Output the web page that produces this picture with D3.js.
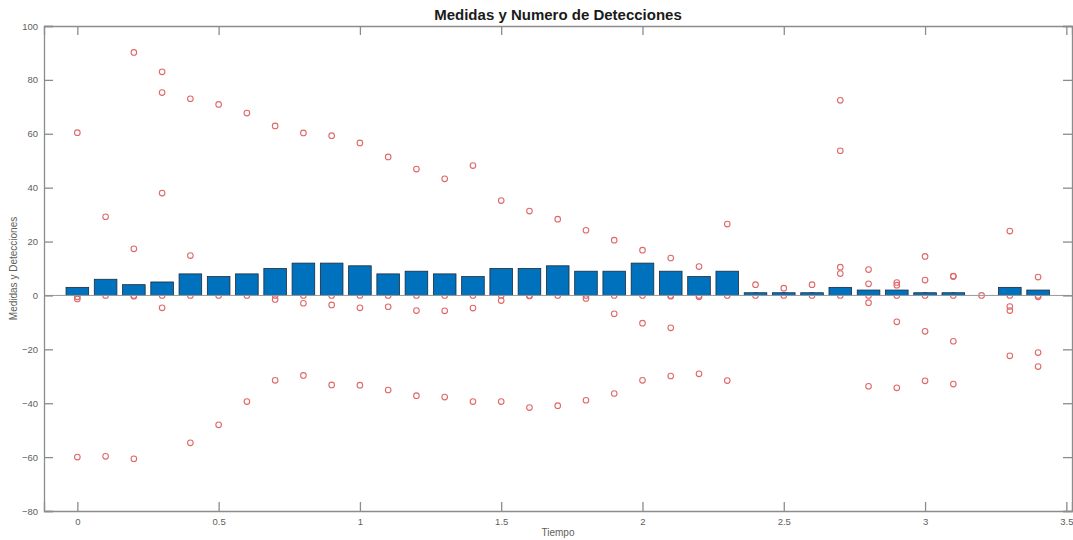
<!DOCTYPE html>
<html>
<head>
<meta charset="utf-8">
<script src="https://cdn.jsdelivr.net/npm/d3@7"></script>
<style>
  html, body { margin: 0; padding: 0; background: #fff; }
  svg { display: block; font-family: "Liberation Sans", Arial, sans-serif; }
</style>
</head>
<body>
<svg id="chart" width="1073" height="540"></svg>
<script>
// Sampling instants (s)
const tiempos = [0, 0.1, 0.2, 0.3, 0.4, 0.5, 0.6, 0.7, 0.8, 0.9,
                 1.0, 1.1, 1.2, 1.3, 1.4, 1.5, 1.6, 1.7, 1.8, 1.9,
                 2.0, 2.1, 2.2, 2.3, 2.4, 2.5, 2.6, 2.7, 2.8, 2.9,
                 3.0, 3.1, 3.2, 3.3, 3.4];

// Number of detections at each instant
const detecciones = [3, 6, 4, 5, 8, 7, 8, 10, 12, 12,
                     11, 8, 9, 8, 7, 10, 10, 11, 9, 9,
                     12, 9, 7, 9, 1, 1, 1, 3, 2, 2,
                     1, 1, 0, 3, 2];

// Measurements taken at each instant
const medidas = [
  [60.4, -0.5, -1.3, -60],
  [29.2, 0, -59.7],
  [90.2, 17.3, 0, -0.3, -60.6],
  [83, 75.3, 38, 0, -4.6],
  [73, 14.8, 0, -54.7],
  [70.9, 0, -48],
  [67.7, 0, -39.4],
  [62.9, 0, -1.5, -31.5],
  [60.3, 0, -2.9, -29.7],
  [59.3, 0, -3.5, -33.2],
  [56.6, 0, -4.6, -33.3],
  [51.4, 0, -4.2, -35.1],
  [46.9, 0, -5.6, -37.2],
  [43.3, 0, -5.7, -37.7],
  [48.2, 0, -4.7, -39.4],
  [35.2, 0, -1.9, -39.4],
  [31.3, 0, -0.2, -41.6],
  [28.3, 0, -40.9],
  [24.2, 0, -1.1, -38.9],
  [20.5, 0, -6.8, -36.4],
  [16.8, 0, -10.3, -31.5],
  [13.9, 0, -0.3, -12, -29.9],
  [10.7, 0, -0.5, -29.1],
  [26.5, 0, -31.6],
  [4.0, 0],
  [2.7, 0],
  [4.0, 0],
  [72.4, 53.7, 10.5, 8.1, 0],
  [9.6, 4.3, 0, -2.7, -33.7],
  [4.8, 3.8, 0, -9.8, -34.3],
  [14.5, 5.7, 0, -13.3, -31.7],
  [7.2, 7.0, 0, -17, -32.9],
  [0],
  [23.9, 0, -4.1, -5.6, -22.4],
  [6.8, 0, -0.5, -21.2, -26.4]
];

const xTicks = [0, 0.5, 1, 1.5, 2, 2.5, 3, 3.5];
const yTicks = [-80, -60, -40, -20, 0, 20, 40, 60, 80, 100];

const titulo = "Medidas y Numero de Detecciones";
const etiquetaX = "Tiempo";
const etiquetaY = "Medidas y Detecciones";

const svg = d3.select("#chart");
const plotLeft = 44, plotRight = 1072, plotTop = 26, plotBottom = 511;

const x = d3.scaleLinear().domain([-0.118, 3.52]).range([plotLeft, plotRight]);
const y = d3.scaleLinear().domain([-80, 100]).range([plotBottom, plotTop]);

const axisColor = "#8c8c8c";
const labelColor = "#5e5e5e";
const tickLen = 9;

// Measurement markers (drawn under the bars)
const puntos = [];
tiempos.forEach((t, i) => medidas[i].forEach(v => puntos.push({t, v})));

svg.append("g")
  .selectAll("circle")
  .data(puntos)
  .join("circle")
  .attr("cx", d => x(d.t))
  .attr("cy", d => y(d.v))
  .attr("r", 2.8)
  .attr("fill", "none")
  .attr("stroke", "#e06868")
  .attr("stroke-width", 1.1);

// Detection count bars
const barW = x(0.08) - x(0);
svg.append("g")
  .selectAll("rect")
  .data(tiempos.map((t, i) => ({t, n: detecciones[i]})).filter(d => d.n > 0))
  .join("rect")
  .attr("x", d => x(d.t) - barW / 2)
  .attr("y", d => y(d.n))
  .attr("width", barW)
  .attr("height", d => y(0) - y(d.n))
  .attr("fill", "#0072BD")
  .attr("stroke", "#1c2a3a")
  .attr("stroke-width", 0.8);

// Bar baseline
svg.append("line")
  .attr("x1", plotLeft).attr("x2", plotRight)
  .attr("y1", y(0)).attr("y2", y(0))
  .attr("stroke", "#9a9a9a").attr("stroke-width", 1);

// Axes with inward ticks on all four sides
const axisBottom = d3.axisBottom(x).tickValues(xTicks).tickSize(-tickLen).tickPadding(7)
  .tickFormat(d => d3.format("")(d));
const axisTop = d3.axisTop(x).tickValues(xTicks).tickSize(-tickLen).tickFormat("");
const axisLeft = d3.axisLeft(y).tickValues(yTicks).tickSize(-tickLen).tickPadding(6);
const axisRight = d3.axisRight(y).tickValues(yTicks).tickSize(-tickLen).tickFormat("");

function styleAxis(g) {
  g.selectAll(".domain").attr("stroke", axisColor).attr("stroke-width", 1.3);
  g.selectAll(".tick line").attr("stroke", axisColor).attr("stroke-width", 1.3);
  g.selectAll(".tick text").attr("fill", labelColor).attr("font-size", 9.5)
    .attr("font-family", "Liberation Sans, Arial, sans-serif");
}

svg.append("g").attr("transform", `translate(0,${plotBottom})`).call(axisBottom).call(styleAxis);
svg.append("g").attr("transform", `translate(0,${plotTop})`).call(axisTop).call(styleAxis);
svg.append("g").attr("transform", `translate(${plotLeft},0)`).call(axisLeft).call(styleAxis);
svg.append("g").attr("transform", `translate(${plotRight},0)`).call(axisRight).call(styleAxis);

// Title and axis labels
svg.append("text")
  .attr("x", (plotLeft + plotRight) / 2).attr("y", 20)
  .attr("text-anchor", "middle")
  .attr("font-size", 15).attr("font-weight", "bold").attr("fill", "#1a1a1a")
  .text(titulo);

svg.append("text")
  .attr("x", (plotLeft + plotRight) / 2).attr("y", 536)
  .attr("text-anchor", "middle")
  .attr("font-size", 10).attr("fill", labelColor)
  .text(etiquetaX);

svg.append("text")
  .attr("transform", `translate(17,${(plotTop + plotBottom) / 2}) rotate(-90)`)
  .attr("text-anchor", "middle")
  .attr("font-size", 10).attr("fill", labelColor)
  .text(etiquetaY);
</script>
</body>
</html>
